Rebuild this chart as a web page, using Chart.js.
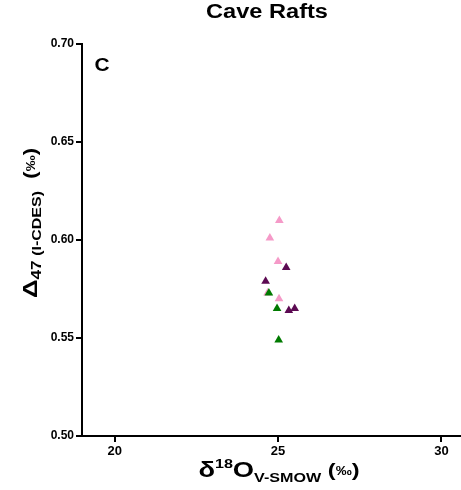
<!DOCTYPE html>
<html>
<head>
<meta charset="utf-8">
<script src="https://cdn.jsdelivr.net/npm/chart.js@4.4.1/dist/chart.umd.min.js"></script>
<style>
  html, body { margin: 0; padding: 0; background: #fff; }
  canvas { display: block; }
</style>
</head>
<body>
<canvas id="c" width="461" height="490"></canvas>
<script>
// δ18O (‰, V-SMOW) and Δ47 (‰, I-CDES) for the three cave raft groups
const pinkX   = [25.04, 24.75, 25.00, 25.03, 24.68];
const pinkY   = [0.610, 0.601, 0.589, 0.570, 0.573];
const purpleX = [25.25, 24.62, 25.33, 25.51];
const purpleY = [0.586, 0.579, 0.564, 0.565];
const greenX  = [24.72, 24.97, 25.02];
const greenY  = [0.573, 0.565, 0.549];

const xTicks = [20, 25, 30];
const yTicks = [0.50, 0.55, 0.60, 0.65, 0.70];

const FONT = "'Liberation Sans', Arial, sans-serif";

function pts(xs, ys) { return xs.map((x, i) => ({ x: x, y: ys[i] })); }

// Draws a run of text segments (with sub/superscripts) centred on (0,0)
function drawRich(ctx, segs, stretch) {
  let total = 0;
  segs.forEach(s => { ctx.font = 'bold ' + s.size + 'px ' + FONT; s.w = ctx.measureText(s.t).width; total += s.w; });
  ctx.save();
  ctx.scale(stretch, 1);
  let x = -total / 2;
  ctx.textAlign = 'left';
  ctx.textBaseline = 'alphabetic';
  ctx.fillStyle = '#000';
  segs.forEach(s => {
    ctx.font = 'bold ' + s.size + 'px ' + FONT;
    ctx.fillText(s.t, x, s.dy || 0);
    x += s.w;
  });
  ctx.restore();
}

const labels = {
  id: 'labels',
  afterDraw(chart) {
    const ctx = chart.ctx;
    // chart title
    ctx.save();
    ctx.translate(267, 18);
    drawRich(ctx, [{ t: 'Cave Rafts', size: 20 }], 1.18);
    ctx.restore();
    // panel letter
    ctx.save();
    ctx.translate(102, 71);
    drawRich(ctx, [{ t: 'C', size: 19 }], 1.1);
    ctx.restore();
    // x-axis title
    ctx.save();
    ctx.translate(279, 477);
    drawRich(ctx, [
      { t: 'δ', size: 22 },
      { t: '18', size: 13, dy: -9 },
      { t: 'O', size: 22 },
      { t: 'V-SMOW', size: 13, dy: 5 },
      { t: ' (', size: 19, dy: -1 },
      { t: '‰', size: 13, dy: -2 },
      { t: ')', size: 19, dy: -1 }
    ], 1.24);
    ctx.restore();
    // y-axis title
    ctx.save();
    ctx.translate(37, 223);
    ctx.rotate(-Math.PI / 2);
    drawRich(ctx, [
      { t: 'Δ', size: 21 },
      { t: '47', size: 14, dy: 4 },
      { t: ' (I-CDES)', size: 13, dy: 4 },
      { t: '  (', size: 18, dy: -1 },
      { t: '‰', size: 13, dy: -2 },
      { t: ')', size: 18, dy: -1 }
    ], 1.23);
    ctx.restore();
  }
};

const axisGrid = { display: true, drawOnChartArea: false, drawTicks: true, tickLength: 6, color: '#000', lineWidth: 2 };
const axisBorder = { display: true, color: '#000', width: 2 };

new Chart(document.getElementById('c'), {
  type: 'scatter',
  data: {
    datasets: [
      { label: 'green',  data: pts(greenX, greenY),   backgroundColor: '#007a00', borderColor: '#007a00', order: 1 },
      { label: 'purple', data: pts(purpleX, purpleY), backgroundColor: '#5c0a52', borderColor: '#5c0a52', order: 2 },
      { label: 'pink',   data: pts(pinkX, pinkY),     backgroundColor: '#f59ac8', borderColor: '#f59ac8', order: 3 }
    ]
  },
  options: {
    responsive: false,
    animation: false,
    devicePixelRatio: 1,
    layout: { autoPadding: false, padding: { top: 44, left: 0, right: 0, bottom: 0 } },
    elements: { point: { pointStyle: 'triangle', radius: 5, borderWidth: 0, hoverRadius: 5 } },
    plugins: { legend: { display: false }, tooltip: { enabled: false }, title: { display: false } },
    scales: {
      x: {
        type: 'linear', position: 'bottom', min: 19, max: 30.6,
        afterBuildTicks: s => { s.ticks = xTicks.map(v => ({ value: v })); },
        afterFit: s => { s.height = 54; },
        ticks: { color: '#000', font: { family: FONT, size: 13, weight: 'bold' }, padding: 2, maxRotation: 0 },
        grid: axisGrid, border: axisBorder
      },
      y: {
        type: 'linear', position: 'left', min: 0.5, max: 0.7,
        afterBuildTicks: s => { s.ticks = yTicks.map(v => ({ value: v })); },
        afterFit: s => { s.width = 82; },
        ticks: { color: '#000', font: { family: FONT, size: 12, weight: 'bold' }, padding: 2, callback: v => v.toFixed(2) },
        grid: axisGrid, border: axisBorder
      }
    }
  },
  plugins: [labels]
});
</script>
</body>
</html>
